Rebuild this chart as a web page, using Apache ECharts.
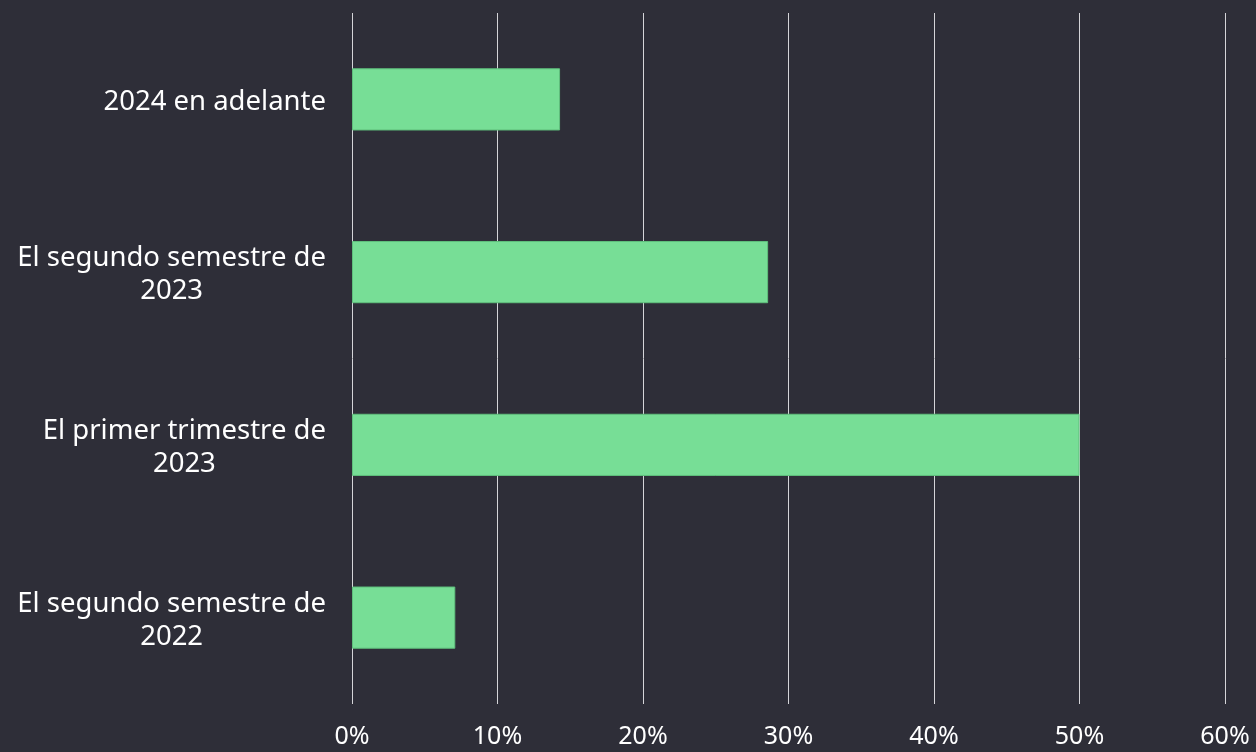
<!DOCTYPE html>
<html>
<head>
<meta charset="utf-8">
<script src="https://cdn.jsdelivr.net/npm/echarts@6/dist/echarts.min.js"></script>
<style>
  html, body { margin: 0; padding: 0; background: #2e2e38; }
  #chart { width: 1256px; height: 752px; }
</style>
</head>
<body>
<div id="chart"></div>
<script>
// categorias (de abajo hacia arriba)
const categories = [
  'El segundo semestre de\n2022',
  'El primer trimestre de\n2023',
  'El segundo semestre de\n2023',
  '2024 en adelante'
]
const values = [7.1, 50, 28.6, 14.3]
const xMin = 0
const xMax = 60
const xStep = 10

const chart = echarts.init(document.getElementById('chart'))
chart.setOption({
  backgroundColor: '#2e2e38',
  grid: {
    left: 352,
    right: 31,
    top: 13,
    bottom: 48
  },
  xAxis: {
    type: 'value',
    min: xMin,
    max: xMax,
    interval: xStep,
    axisLine: { show: false },
    axisTick: { show: false },
    splitLine: {
      show: true,
      lineStyle: { color: '#d4d4d8', width: 1 }
    },
    axisLabel: {
      color: '#ffffff',
      fontFamily: 'Noto Sans',
      fontSize: 25,
      margin: 20,
      formatter: '{value}%'
    }
  },
  yAxis: {
    type: 'category',
    data: categories,
    axisLine: { show: false },
    axisTick: { show: false },
    axisLabel: {
      margin: 26,
      padding: [6, 0, 0, 0],
      formatter: function (v) { return '{a|' + v + '}' },
      rich: {
        a: {
          color: '#ffffff',
          fontFamily: 'Noto Sans',
          fontSize: 27.5,
          lineHeight: 33,
          align: 'center'
        }
      }
    }
  },
  series: [
    {
      type: 'bar',
      data: values,
      barWidth: '36%',
      itemStyle: {
        color: '#77de96',
        borderColor: '#5fbf7c',
        borderWidth: 1
      }
    }
  ]
})
</script>
</body>
</html>
